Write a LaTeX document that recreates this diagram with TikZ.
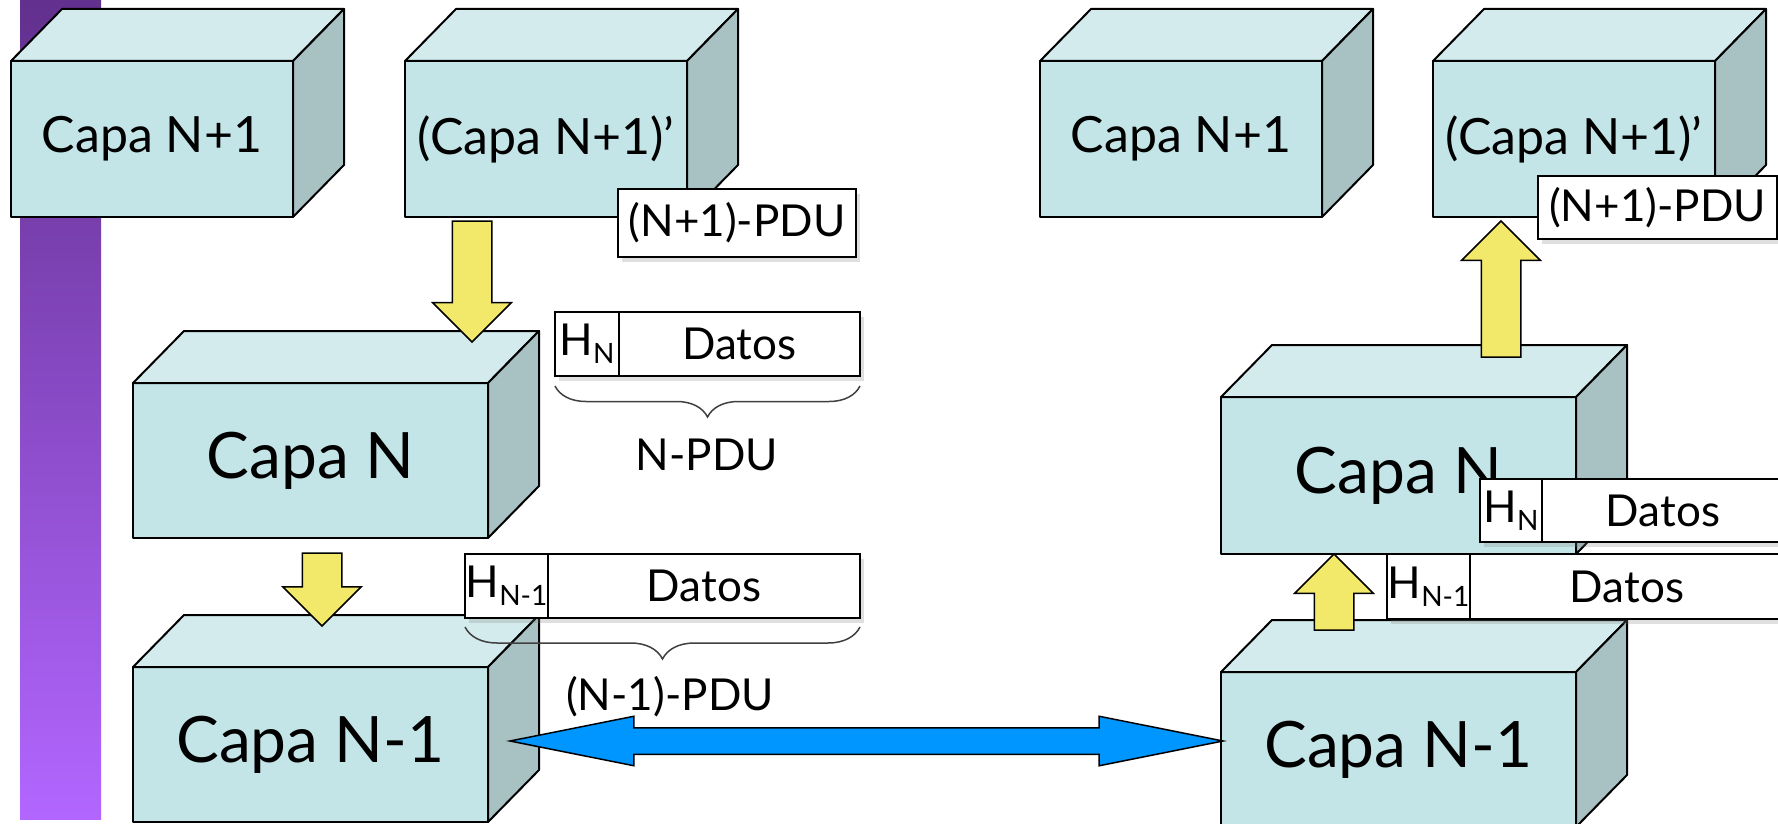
\documentclass[tikz,border=0pt]{standalone}
\usepackage{fontspec}
\setmainfont{Lato}
\usetikzlibrary{positioning,calc,shapes.arrows,shadows,decorations.pathreplacing}

\definecolor{caraF}{RGB}{196,229,231}
\definecolor{caraT}{RGB}{211,235,236}
\definecolor{caraS}{RGB}{168,194,196}
\definecolor{amarillo}{RGB}{242,233,107}
\definecolor{azul}{RGB}{0,150,255}
\definecolor{moradoA}{RGB}{98,48,142}
\definecolor{moradoB}{RGB}{178,102,255}

\tikzset{
  capa/.style={draw, fill=caraF, line width=2pt, line join=round, outer sep=0pt, inner sep=0pt, anchor=north west},
  capach/.style={capa, minimum width=282, minimum height=156, font=\fontsize{50}{56}\selectfont},
  capagr/.style={capa, minimum width=355, minimum height=155, font=\fontsize{64}{70}\selectfont},
  pdu/.style={draw, fill=white, line width=2pt, outer sep=0pt, inner sep=0pt, minimum height=64, anchor=north west,
    font=\fontsize{44}{50}\selectfont, drop shadow={shadow xshift=4pt, shadow yshift=-5pt, opacity=.25}},
  llave/.style={decorate, decoration={brace, mirror, amplitude=31pt}, draw=black!75, line width=1.5pt},
  etiq/.style={font=\fontsize{44}{50}\selectfont},
  flechaam/.style={single arrow, draw, fill=amarillo, line width=1.5pt, minimum width=77, single arrow head extend=19.5,
    single arrow tip angle=90, inner xsep=0pt, inner ysep=19pt, outer sep=0pt, anchor=tail},
  enlace/.style={double arrow, draw, fill=azul, line width=1.5pt, minimum width=48, double arrow head extend=11.5,
    double arrow tip angle=22.6, inner xsep=0pt, inner ysep=12.5pt, outer sep=0pt, anchor=west}
}

\newcommand{\cubo}[1]{%
  \draw[line width=2pt, line join=round, fill=caraT] (#1.north west) -- ++(51,-52) -- ($(#1.north east)+(51,-52)$) -- (#1.north east) -- cycle;
  \draw[line width=2pt, line join=round, fill=caraS] (#1.north east) -- ++(51,-52) -- ($(#1.south east)+(51,-52)$) -- (#1.south east) -- cycle;}
\newcommand{\flecha}[4]{%
  \path let \p1=($(#4)-(#3)$) in
    node[#1, minimum height={veclen(\x1,\y1)}, rotate={atan2(\y1,\x1)}] (#2) at (#3) {};}
\newcommand{\hsub}[1]{H\raisebox{-8pt}{\fontsize{28}{28}\selectfont #1}}

\begin{document}
\begin{tikzpicture}[x=1pt, y=-1pt]
    \fill[white] (0,0) rectangle (1778,824);
    \useasboundingbox (0,0) rectangle (1778,824);
    \shade[top color=moradoA, bottom color=moradoB] (20,0) rectangle (101,819);

    \node[capach] (capaN1L) at (11,61) {Capa N+1};
    \cubo{capaN1L}
    \node[capach] (capaN1pL) at (405,61) {(Capa N+1)'};
    \cubo{capaN1pL}
    \node[pdu, minimum width=238, minimum height=68] (pduN1L) at (618,189) {(N+1)-PDU};

    \node[capagr] (capaNL) at (133,383) {Capa N};
    \cubo{capaNL}
    \coordinate (bajaA1) at (472,221);
    \coordinate (bajaA2) at (472,342);
    \flecha{flechaam}{bajaA}{bajaA1}{bajaA2}

    \node[pdu, minimum width=64] (hnL) at (555,312) {\hsub{N}};
    \node[pdu, minimum width=241, right=0pt of hnL] (datosNL) {Datos};
    \draw[llave] ([yshift=-10pt]hnL.south west) -- ([yshift=-10pt]datosNL.south east);
    \node[etiq] (npdu) at (707,455) {N-PDU};

    \node[capagr] (capaNm1L) at (133,667) {Capa N-1};
    \cubo{capaNm1L}
    \coordinate (bajaB1) at (322,553);
    \coordinate (bajaB2) at (322,626);
    \flecha{flechaam}{bajaB}{bajaB1}{bajaB2}

    \node[pdu, minimum width=83] (hnm1L) at (465,554) {\hsub{N-1}};
    \node[pdu, minimum width=312, right=0pt of hnm1L] (datosNm1L) {Datos};
    \draw[llave, decoration={amplitude=32pt}] ([yshift=-9pt]hnm1L.south west) -- ([yshift=-9pt]datosNm1L.south east);
    \node[etiq] (nm1pdu) at (670,697) {(N-1)-PDU};

    \node[capach] (capaN1R) at (1040,61) {Capa N+1};
    \cubo{capaN1R}
    \node[capach] (capaN1pR) at (1433,61) {(Capa N+1)'};
    \cubo{capaN1pR}
    \node[pdu, minimum width=239, minimum height=63] (pduN1R) at (1538,176) {(N+1)-PDU};

    \node[capagr, minimum height=157] (capaNR) at (1221,397) {Capa N};
    \cubo{capaNR}
    \coordinate (subeA1) at (1501,357);
    \coordinate (subeA2) at (1501,221);
    \flecha{flechaam}{subeA}{subeA1}{subeA2}
    \node[pdu, minimum width=62, minimum height=63] (hnR) at (1480,479) {\hsub{N}};
    \node[pdu, minimum width=242, minimum height=63, right=0pt of hnR] (datosNR) {Datos};

    \node[capagr] (capaNm1R) at (1221,672) {Capa N-1};
    \cubo{capaNm1R}
    \node[pdu, minimum width=83, minimum height=65] (hnm1R) at (1387,554) {\hsub{N-1}};
    \node[pdu, minimum width=314, minimum height=65, right=0pt of hnm1R] (datosNm1R) {Datos};
    \coordinate (subeB1) at (1334,630);
    \coordinate (subeB2) at (1334,554);
    \flecha{flechaam}{subeB}{subeB1}{subeB2}

    \coordinate (enlaceL) at (510,741);
    \coordinate (enlaceR) at (1223,741);
    \flecha{enlace}{par}{enlaceL}{enlaceR}
\end{tikzpicture}
\end{document}
